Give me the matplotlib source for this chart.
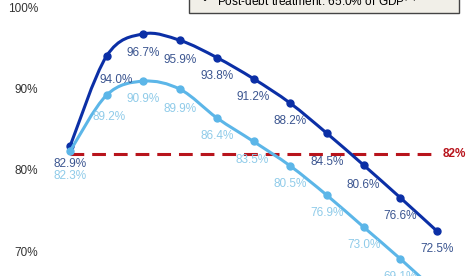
import matplotlib.pyplot as plt
from matplotlib.patches import Rectangle, PathPatch
from matplotlib.path import Path

plt.rcParams["font.family"] = ["Liberation Sans", "DejaVu Sans"]

# debt ratio paths (% of GDP)
periods = list(range(11))
pre_debt = [82.9, 94.0, 96.7, 95.9, 93.8, 91.2, 88.2, 84.5, 80.6, 76.6, 72.5]
post_debt = [82.3, 89.2, 90.9, 89.9, 86.4, 83.5, 80.5, 76.9, 73.0, 69.1, 65.0]
threshold = 82
y_ticks = [70, 80, 90, 100]

# label offsets in points (dx, dy)
pre_offsets = [(0, -13), (7, -17), (0, -14), (0, -14), (0, -13), (0, -13),
               (0, -13), (0, -21), (0, -14), (0, -13), (0, -13)]
post_offsets = [(0, -18), (2, -16), (0, -13), (0, -14), (0, -13), (-1, -13),
                (0, -13), (0, -13), (0, -13), (0, -13), (0, -13)]

dark = "#0b2fa6"
light = "#5cb6e8"
dark_lbl = "#3b5590"
light_lbl = "#8fcbe9"
red = "#b8141c"


def smooth_path(xs, ys):
    # catmull-rom through the points, as cubic bezier segments
    pts = list(zip(xs, ys))
    verts = [pts[0]]
    codes = [Path.MOVETO]
    n = len(pts)
    for i in range(n - 1):
        p0 = pts[max(i - 1, 0)]
        p1 = pts[i]
        p2 = pts[i + 1]
        p3 = pts[min(i + 2, n - 1)]
        c1 = (p1[0] + (p2[0] - p0[0]) / 6, p1[1] + (p2[1] - p0[1]) / 6)
        c2 = (p2[0] - (p3[0] - p1[0]) / 6, p2[1] - (p3[1] - p1[1]) / 6)
        verts += [c1, c2, p2]
        codes += [Path.CURVE4] * 3
    return Path(verts, codes)


fig = plt.figure(figsize=(4.7, 2.76), dpi=100)
ax = fig.add_axes([44 / 470, 0, 1 - 44 / 470, 1])

ax.set_xlim((44 - 70) / 36.7, (470 - 70) / 36.7)
ax.set_ylim(100 - 269 / 8.15, 100 + 7 / 8.15)

ax.hlines(threshold, periods[0], 9.85, colors=red, linestyles=(0, (4.5, 2.6)),
          linewidth=2.2, zorder=1)
ax.text(10.15, threshold, f"{threshold}%", color=red, fontsize=8.5,
        fontweight="bold", ha="left", va="center")

ax.add_patch(PathPatch(smooth_path(periods, post_debt), facecolor="none",
                       edgecolor=light, linewidth=2.2, zorder=3))
ax.plot(periods, post_debt, color=light, linestyle="none", marker="o",
        markersize=5, zorder=3)
ax.add_patch(PathPatch(smooth_path(periods, pre_debt), facecolor="none",
                       edgecolor=dark, linewidth=2.2, zorder=2))
ax.plot(periods, pre_debt, color=dark, linestyle="none", marker="o",
        markersize=5, zorder=2)

for x, v, off in zip(periods, pre_debt, pre_offsets):
    ax.annotate(f"{v:.1f}%", (x, v), xytext=off, textcoords="offset points",
                ha="center", va="center", color=dark_lbl, fontsize=8.5)
for x, v, off in zip(periods, post_debt, post_offsets):
    ax.annotate(f"{v:.1f}%", (x, v), xytext=off, textcoords="offset points",
                ha="center", va="center", color=light_lbl, fontsize=8.5)

ax.set_yticks(y_ticks)
ax.set_yticklabels([f"{t}%" for t in y_ticks], color="#333333", fontsize=8.5)
ax.tick_params(axis="y", length=0, pad=4)
ax.set_xticks([])
for s in ax.spines.values():
    s.set_visible(False)

# legend box, cut off at the top
box = Rectangle((189 / 470, 1 - 12.5 / 276), 270 / 470, 0.2, transform=fig.transFigure,
                facecolor="#f1efe8", edgecolor="#444444", linewidth=1, clip_on=False)
fig.patches.append(box)
fig.text(205 / 470, 1 - 1 / 276, "\u2022", fontsize=8.5, ha="center", va="center")
fig.text(217 / 470, 1 - 1 / 276, "Post-debt treatment: 65.0% of GDP$^{(1)}$",
         fontsize=8.6, ha="left", va="center")

fig.savefig("out.png", dpi=100)
